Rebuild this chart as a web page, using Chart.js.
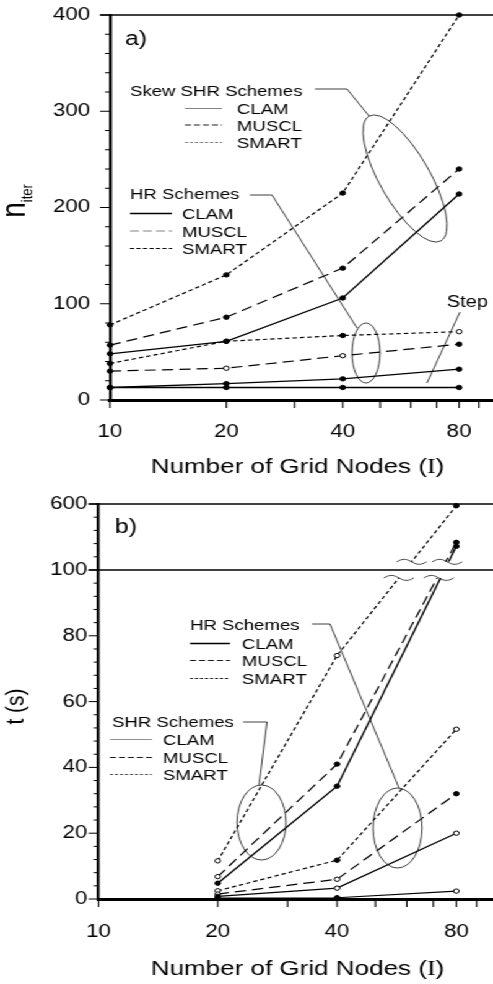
<!DOCTYPE html>
<html>
<head>
<meta charset="utf-8">
<script src="https://cdn.jsdelivr.net/npm/chart.js@4.4.1/dist/chart.umd.min.js"></script>
<style>
html, body { margin: 0; padding: 0; background: #fff; overflow: hidden; }
#wrap { position: absolute; left: 0; top: 0; width: 398px; height: 984px; transform: scaleX(1.2387); transform-origin: 0 0; }
canvas { position: absolute; left: 0; }
#a { top: 0; }
#b { top: 480px; }
</style>
</head>
<body>
<div id="wrap">
  <canvas id="a" width="398" height="480"></canvas>
  <canvas id="b" width="398" height="504"></canvas>
</div>
<script>
// the scanned figure is stretched sideways, so draw narrow and stretch back
const S = 493 / 398;
const FONT = '"Liberation Sans", Arial, Helvetica, sans-serif';
const SERIF = '"Liberation Serif", "Times New Roman", serif';

const gridNodes = [10, 20, 40, 80];
const timeNodes = [20, 40, 80];
const xTicks = [10, 20, 30, 40, 50, 60, 70, 80, 90];
const xTickLabels = [10, 20, 40, 80];

// a) number of iterations
const skewClamIter = [48, 61, 106, 214];
const skewMusclIter = [57, 86, 137, 240];
const skewSmartIter = [78, 130, 215, 400];
const hrClamIter = [13, 17, 22, 32];
const hrMusclIter = [30, 33, 46, 58];
const hrSmartIter = [38, 61, 67, 71];
const stepIter = [13, 13, 13, 13];
const iterTicks = [0, 20, 40, 60, 80, 100, 120, 140, 160, 180, 200, 220, 240, 260, 280, 300, 320, 340, 360, 380, 400];
const iterTickLabels = [0, 100, 200, 300, 400];

// b) CPU time (s), axis broken at 100
const shrClamTime = [4.8, 34.3, 280];
const shrMusclTime = [6.8, 41, 310];
const shrSmartTime = [11.6, 74, 587];
const hrClamTime = [0.8, 3.3, 20];
const hrMusclTime = [1.5, 6, 32];
const hrSmartTime = [2.5, 11.8, 51.6];
const stepTime = [0.3, 0.4, 2.4];
const timeTicks = [0, 4, 8, 12, 16, 20, 24, 28, 32, 36, 40, 44, 48, 52, 56, 60, 64, 68, 72, 76, 80, 84, 88, 92, 96, 100, 200, 300, 400, 500, 600];
const timeTickLabels = [0, 20, 40, 60, 80, 100, 600];

const BREAK_AT = 100;
const BREAK_FRAC = 329 / 395;

class BrokenScale extends Chart.LinearScale {
    getPixelForValue(v) {
        const d = v <= BREAK_AT ? v / BREAK_AT * BREAK_FRAC
            : BREAK_FRAC + (v - BREAK_AT) / (this.max - BREAK_AT) * (1 - BREAK_FRAC);
        return this.getPixelForDecimal(d);
    }
    getValueForPixel(p) {
        const d = this.getDecimalForPixel(p);
        return d <= BREAK_FRAC ? d / BREAK_FRAC * BREAK_AT
            : BREAK_AT + (d - BREAK_FRAC) / (1 - BREAK_FRAC) * (this.max - BREAK_AT);
    }
}
BrokenScale.id = 'broken';
Chart.register(BrokenScale);

const SOLID = [];
const LONG = [9, 5];
const SHORT = [3.5, 2.5];

function series(label, xs, ys, dash, open, width) {
    return {
        label: label,
        data: xs.map((x, i) => ({ x: x, y: ys[i] })),
        borderColor: '#000',
        borderWidth: width || 1.2,
        borderDash: dash,
        pointRadius: 2.2,
        pointBorderWidth: 1,
        pointBorderColor: '#000',
        pointBackgroundColor: ys.map((v, i) => open.includes(i) ? '#fff' : '#000'),
        tension: 0,
        fill: false,
        clip: false
    };
}

// annotations, in page pixels of the reference
const decorSpecs = {
    a: {
        top: 0,
        frame: [400],
        texts: [
            { text: 'a)', x: 125, y: 45, size: 20 },
            { text: 'Skew SHR Schemes', x: 130, y: 96, size: 15 },
            { text: 'CLAM', x: 237, y: 114, size: 15 },
            { text: 'MUSCL', x: 237, y: 130.5, size: 15 },
            { text: 'SMART', x: 237, y: 148, size: 15 },
            { text: 'HR Schemes', x: 130, y: 199, size: 15 },
            { text: 'CLAM', x: 182, y: 219, size: 15 },
            { text: 'MUSCL', x: 182, y: 236.5, size: 15 },
            { text: 'SMART', x: 182, y: 254, size: 15 },
            { text: 'Step', x: 447, y: 307, size: 16 }
        ],
        keys: [
            { x0: 185, x1: 222, y: 108.5, dash: SOLID, width: 0.8, color: '#555' },
            { x0: 185, x1: 222, y: 125, dash: [6, 3], width: 1, color: '#000' },
            { x0: 185, x1: 222, y: 142.5, dash: [3, 2], width: 0.8, color: '#444' },
            { x0: 130, x1: 172, y: 213.5, dash: SOLID, width: 1.4, color: '#000' },
            { x0: 130, x1: 172, y: 231, dash: [9, 4], width: 0.9, color: '#666' },
            { x0: 130, x1: 172, y: 248.5, dash: [4, 2.5], width: 1.1, color: '#000' }
        ],
        leaders: [
            [[315, 89], [347, 89], [369, 116]],
            [[250, 195], [272, 195], [357, 328]],
            [[460, 312], [427, 383]]
        ],
        ellipses: [
            { cx: 405, cy: 178.5, rx: 72, ry: 25, rot: 60 },
            { cx: 366, cy: 353, rx: 14, ry: 30, rot: 0 }
        ],
        xTitleY: 473,
        yTitle: { x: 25, y: 201, parts: [{ text: 'n', size: 28, dy: 0 }, { text: 'iter', size: 13, dy: 5.6 }] }
    },
    b: {
        top: 480,
        frame: [600, 100],
        breaks: [97.6, 162],
        texts: [
            { text: 'b)', x: 115, y: 533, size: 20 },
            { text: 'HR Schemes', x: 190, y: 630, size: 15 },
            { text: 'CLAM', x: 242, y: 649, size: 15 },
            { text: 'MUSCL', x: 242, y: 666, size: 15 },
            { text: 'SMART', x: 242, y: 684, size: 15 },
            { text: 'SHR Schemes', x: 112, y: 727, size: 15 },
            { text: 'CLAM', x: 163, y: 745, size: 15 },
            { text: 'MUSCL', x: 163, y: 763, size: 15 },
            { text: 'SMART', x: 163, y: 780, size: 15 }
        ],
        keys: [
            { x0: 190, x1: 230, y: 643.5, dash: SOLID, width: 1.3, color: '#000' },
            { x0: 190, x1: 230, y: 660.5, dash: [6, 3], width: 1, color: '#000' },
            { x0: 190, x1: 230, y: 678.5, dash: [3, 2], width: 1, color: '#000' },
            { x0: 110, x1: 152, y: 739.5, dash: SOLID, width: 0.8, color: '#666' },
            { x0: 110, x1: 152, y: 757.5, dash: [6, 3], width: 1, color: '#000' },
            { x0: 110, x1: 152, y: 774.5, dash: [3, 2], width: 0.9, color: '#222' }
        ],
        leaders: [
            [[312, 624], [330, 624], [399, 788]],
            [[243, 722], [267, 722], [259, 785]]
        ],
        ellipses: [
            { cx: 261.5, cy: 822.5, rx: 24.5, ry: 37.5, rot: 0 },
            { cx: 397.5, cy: 828, rx: 24.5, ry: 40, rot: 0 }
        ],
        xTitleY: 975,
        yTitle: { x: 23, y: 706.5, parts: [{ text: 't (s)', size: 21, dy: 0 }] }
    }
};

function polyline(ctx, pts) {
    ctx.beginPath();
    pts.forEach((p, i) => i ? ctx.lineTo(p[0], p[1]) : ctx.moveTo(p[0], p[1]));
    ctx.stroke();
}

function wave(ctx, x, y) {
    ctx.beginPath();
    for (let i = 0; i <= 20; i++) {
        const t = i / 20;
        const px = x - 15 + 30 * t, py = y - 2.5 * Math.sin(2 * Math.PI * t);
        i ? ctx.lineTo(px, py) : ctx.moveTo(px, py);
    }
    ctx.stroke();
}

function drawBreaks(chart, o) {
    const ctx = chart.ctx, ys = chart.scales.y;
    const yLo = ys.getPixelForValue(o.breaks[0]);
    const yHi = ys.getPixelForValue(o.breaks[1]);
    let hits = [];
    chart.data.datasets.forEach((ds, i) => {
        const pts = chart.getDatasetMeta(i).data;
        for (let j = 1; j < pts.length; j++) {
            const p0 = pts[j - 1], p1 = pts[j];
            if (p0.y > yLo && p1.y < yHi) {
                const at = yy => p0.x + (p1.x - p0.x) * (p0.y - yy) / (p0.y - p1.y);
                hits.push([at(yLo), at(yHi)]);
            }
        }
    });
    ctx.save();
    ctx.fillStyle = '#fff';
    hits.forEach(h => {
        ctx.fillRect(Math.min(h[0], h[1]) - 4, yHi, Math.abs(h[1] - h[0]) + 8, yLo - yHi);
    });
    hits.sort((p, q) => p[0] - q[0]);
    const merged = [];
    hits.forEach(h => {
        const last = merged[merged.length - 1];
        if (last && Math.abs(last[0] - h[0]) < 8) {
            last[0] = (last[0] + h[0]) / 2;
            last[1] = (last[1] + h[1]) / 2;
        } else {
            merged.push(h.slice());
        }
    });
    ctx.scale(1 / S, 1);
    ctx.strokeStyle = '#000';
    ctx.lineWidth = 0.8;
    merged.forEach(h => {
        wave(ctx, h[0] * S, yLo);
        wave(ctx, h[1] * S, yHi);
    });
    ctx.restore();
}

const decor = {
    id: 'decor',
    afterDatasetsDraw(chart) {
        const o = decorSpecs[chart.canvas.id];
        if (o.breaks) drawBreaks(chart, o);
    },
    afterDraw(chart) {
        const o = decorSpecs[chart.canvas.id];
        const ctx = chart.ctx, a = chart.chartArea;
        const xs = chart.scales.x, ys = chart.scales.y;

        // tick marks and frame lines
        ctx.save();
        ctx.strokeStyle = '#000';
        ctx.lineWidth = 1;
        ys.ticks.forEach(t => {
            const p = ys.getPixelForValue(t.value);
            const len = t.label === '' ? 4 : 8;
            polyline(ctx, [[a.left - len, p], [a.left, p]]);
        });
        ctx.lineWidth = 1.1;
        xs.ticks.forEach(t => {
            const p = xs.getPixelForValue(t.value);
            polyline(ctx, [[p, a.bottom], [p, a.bottom + 8]]);
        });
        ctx.lineWidth = 1.3;
        o.frame.forEach(v => {
            const p = ys.getPixelForValue(v);
            polyline(ctx, [[a.left - 8, p], [a.right, p]]);
        });
        ctx.restore();

        // leaders, ellipses and key samples drawn in reference pixels
        ctx.save();
        ctx.scale(1 / S, 1);
        ctx.translate(0, -o.top);
        ctx.strokeStyle = '#111';
        ctx.lineWidth = 0.9;
        o.leaders.forEach(l => polyline(ctx, l));
        o.ellipses.forEach(e => {
            ctx.beginPath();
            ctx.ellipse(e.cx, e.cy, e.rx, e.ry, e.rot * Math.PI / 180, 0, 2 * Math.PI);
            ctx.stroke();
        });
        o.keys.forEach(k => {
            ctx.save();
            ctx.strokeStyle = k.color;
            ctx.lineWidth = k.width;
            ctx.setLineDash(k.dash);
            polyline(ctx, [[k.x0, k.y], [k.x1, k.y]]);
            ctx.restore();
        });
        ctx.restore();

        // texts
        ctx.save();
        ctx.fillStyle = '#000';
        ctx.textBaseline = 'alphabetic';
        ctx.textAlign = 'left';
        o.texts.forEach(t => {
            ctx.font = t.size + 'px ' + FONT;
            ctx.fillText(t.text, t.x / S, t.y - o.top);
        });

        // x title with a serif I
        const parts = [
            { text: 'Number of Grid Nodes (', font: FONT },
            { text: 'I', font: SERIF },
            { text: ')', font: FONT }
        ];
        let total = 0;
        parts.forEach(p => {
            ctx.font = '21px ' + p.font;
            p.w = ctx.measureText(p.text).width;
            total += p.w;
        });
        let x = 297.5 / S - total / 2;
        parts.forEach(p => {
            ctx.font = '21px ' + p.font;
            ctx.fillText(p.text, x, o.xTitleY - o.top);
            x += p.w;
        });

        // rotated y title
        const yt = o.yTitle;
        let len = 0;
        yt.parts.forEach(p => {
            ctx.font = p.size + 'px ' + FONT;
            p.w = ctx.measureText(p.text).width;
            len += p.w;
        });
        ctx.translate(yt.x / S, yt.y - o.top);
        ctx.rotate(-Math.PI / 2);
        let s = -len / 2;
        yt.parts.forEach(p => {
            ctx.font = p.size + 'px ' + FONT;
            ctx.fillText(p.text, s, p.dy);
            s += p.w;
        });
        ctx.restore();
    }
};

function xAxis(max, height, pad) {
    return {
        type: 'logarithmic',
        min: 10,
        max: max,
        afterBuildTicks: s => { s.ticks = xTicks.map(v => ({ value: v })); },
        afterFit: s => { s.height = height; s.paddingLeft = 0; s.paddingRight = 0; },
        ticks: {
            autoSkip: false,
            maxRotation: 0,
            padding: pad,
            color: '#000',
            font: { family: FONT, size: 18 },
            callback: v => xTickLabels.includes(v) ? String(v) : ''
        },
        grid: { display: false, drawTicks: false, tickLength: 0 },
        border: { display: true, color: '#000', width: 3 }
    };
}

function yAxis(type, max, tickVals, tickLabels, width, pad) {
    return {
        type: type,
        min: 0,
        max: max,
        afterBuildTicks: s => { s.ticks = tickVals.map(v => ({ value: v })); },
        afterFit: s => { s.width = width; s.paddingTop = 0; s.paddingBottom = 0; },
        ticks: {
            autoSkip: false,
            padding: pad,
            color: '#000',
            font: { family: FONT, size: 18 },
            callback: v => tickLabels.includes(v) ? String(v) : ''
        },
        grid: { display: false, drawTicks: false, tickLength: 0 },
        border: { display: true, color: '#000', width: 2.4 }
    };
}

function baseOptions(top, xMax, xHeight, xPad, yScale) {
    return {
        responsive: false,
        animation: false,
        layout: { autoPadding: false, padding: { top: top, right: 0, bottom: 0, left: 0 } },
        plugins: { legend: { display: false }, tooltip: { enabled: false } },
        scales: { x: xAxis(xMax, xHeight, xPad), y: yScale }
    };
}

new Chart(document.getElementById('a'), {
    type: 'line',
    data: {
        datasets: [
            series('Skew SHR CLAM', gridNodes, skewClamIter, SOLID, [], 1.3),
            series('Skew SHR MUSCL', gridNodes, skewMusclIter, LONG, []),
            series('Skew SHR SMART', gridNodes, skewSmartIter, SHORT, []),
            series('HR CLAM', gridNodes, hrClamIter, SOLID, [], 1.3),
            series('HR MUSCL', gridNodes, hrMusclIter, LONG, [1, 2]),
            series('HR SMART', gridNodes, hrSmartIter, SHORT, [3]),
            series('Step', gridNodes, stepIter, SOLID, [], 1.3)
        ]
    },
    options: baseOptions(15, 97.9, 80, 21.7,
        yAxis('linear', 400, iterTicks, iterTickLabels, 110 / S, 16)),
    plugins: [decor]
});

new Chart(document.getElementById('b'), {
    type: 'line',
    data: {
        datasets: [
            series('SHR CLAM', timeNodes, shrClamTime, SOLID, [], 1.4),
            series('SHR MUSCL', timeNodes, shrMusclTime, LONG, [0]),
            series('SHR SMART', timeNodes, shrSmartTime, SHORT, [0, 1]),
            series('HR CLAM', timeNodes, hrClamTime, SOLID, [1, 2], 1.3),
            series('HR MUSCL', timeNodes, hrMusclTime, LONG, [0, 1]),
            series('HR SMART', timeNodes, hrSmartTime, SHORT, [0, 2]),
            series('Step', timeNodes, stepTime, SOLID, [2], 1.1)
        ]
    },
    options: baseOptions(24, 99, 85, 22.5,
        yAxis('broken', 600, timeTicks, timeTickLabels, 98.5 / S, 9)),
    plugins: [decor]
});
</script>
</body>
</html>
